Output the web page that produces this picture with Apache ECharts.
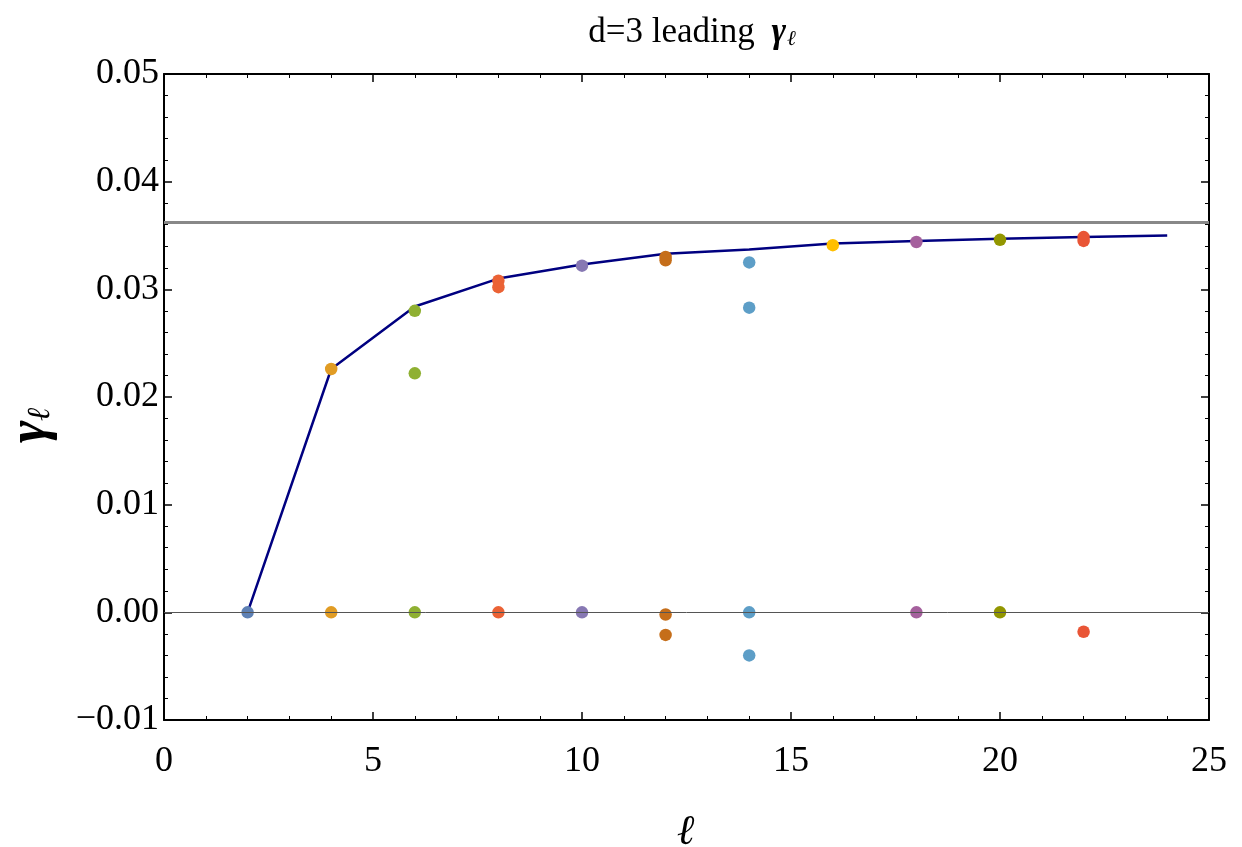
<!DOCTYPE html>
<html><head><meta charset="utf-8">
<script src="https://cdn.jsdelivr.net/npm/echarts@6/dist/echarts.min.js"></script>
<style>html,body{margin:0;padding:0;background:#fff}#c{width:1242px;height:847px}</style>
</head><body><div id="c"></div>
<script>
// Leading-trajectory curve
const lineL = [2, 4, 6, 8, 10, 12, 14, 16, 18, 20, 22, 24];
const lineGamma = [0, 0.0226, 0.0284, 0.0310, 0.0323, 0.0333, 0.0337, 0.03425, 0.0345, 0.0347, 0.03485, 0.0350];
const asymptote = 0.0362;
// Scatter points, grouped by ell
const dotL = [2, 4, 6, 8, 10, 12, 14, 16, 18, 20, 22];
const dotGamma = [
  [0],
  [0.0226, 0],
  [0.0280, 0.0222, 0],
  [0.0308, 0.0302, 0],
  [0.0322, 0],
  [0.0330, 0.0327, -0.0002, -0.0021],
  [0.0325, 0.0283, 0, -0.0040],
  [0.0341],
  [0.0344, 0],
  [0.0346, 0],
  [0.03485, 0.0345, -0.0018]
];
const dotColors = ['#5E81B5','#E19C24','#8FB032','#EB6235','#8778B3','#C56E1A','#5D9EC7','#FFBF00','#A5609D','#929600','#E95536'];
const xTicks = [0, 5, 10, 15, 20, 25];

const serif = '"Liberation Serif","DejaVu Serif",serif';
const chart = echarts.init(document.getElementById('c'), null, {renderer: 'canvas'});

const frameAxis = (extra) => Object.assign({
  type: 'value',
  axisLine: {show: true, onZero: false, lineStyle: {color: '#000', width: 2}},
  axisTick: {show: true, inside: true, length: 8, lineStyle: {color: '#000', width: 1.5}},
  minorTick: {show: true, splitNumber: 5, length: 4, lineStyle: {color: '#000', width: 1}},
  splitLine: {show: false},
  minorSplitLine: {show: false}
}, extra);

const series = [{
  type: 'line',
  data: lineL.map((l, i) => [l, lineGamma[i]]),
  showSymbol: false,
  symbol: 'none',
  lineStyle: {color: '#000080', width: 2.5},
  z: 2,
  markLine: {
    silent: true, symbol: 'none', label: {show: false}, precision: 6,
    data: [
      {yAxis: asymptote, lineStyle: {color: '#888888', width: 3, type: 'solid'}},
      {yAxis: 0, lineStyle: {color: '#555555', width: 1, type: 'solid'}}
    ]
  }
}];
dotL.forEach((l, i) => {
  series.push({
    type: 'scatter',
    data: dotGamma[i].map(g => [l, g]),
    symbol: 'circle',
    symbolSize: 12.5,
    itemStyle: {color: dotColors[i], opacity: 1},
    z: 3
  });
});

chart.setOption({
  animation: false,
  backgroundColor: '#fff',
  title: {
    text: '{a|d=3 leading }{g|γ}{s|ℓ}',
    left: 687, top: 10, textAlign: 'center',
    textStyle: {
      fontWeight: 'normal',
      rich: {
        a: {fontFamily: serif, fontSize: 35, fontWeight: 'normal', color: '#000'},
        g: {fontFamily: serif, fontSize: 35, fontStyle: 'italic', fontWeight: 'bold', color: '#000', padding: [0, 0, 0, 8]},
        s: {fontFamily: serif, fontSize: 21, fontStyle: 'italic', fontWeight: 'normal', color: '#000', padding: [14, 0, 0, 1]}
      }
    }
  },
  grid: {left: 164, right: 33, top: 74, bottom: 127, containLabel: false, outerBoundsMode: 'none'},
  xAxis: [
    frameAxis({
      min: 0, max: 25, interval: 5, position: 'bottom',
      axisLabel: {show: true, margin: 24, fontFamily: serif, fontSize: 36, color: '#000',
        customValues: xTicks},
      name: '{l|ℓ}', nameLocation: 'middle', nameGap: 92,
      nameTextStyle: {rich: {l: {fontFamily: serif, fontSize: 42, fontStyle: 'italic', fontWeight: 'bold', color: '#000'}}}
    }),
    frameAxis({min: 0, max: 25, interval: 5, position: 'top', axisLabel: {show: false}})
  ],
  yAxis: [
    frameAxis({
      min: -0.01, max: 0.05, interval: 0.01, position: 'left',
      axisLabel: {show: true, margin: 5, fontFamily: serif, fontSize: 36, color: '#000',
        formatter: v => v.toFixed(2).replace('-', '−')},
      name: '{g|γ}{s|ℓ}', nameLocation: 'middle', nameGap: 106, nameRotate: 90,
      nameTextStyle: {
        padding: [0, 56, 0, 0],
        rich: {
          g: {fontFamily: serif, fontSize: 54, fontStyle: 'italic', fontWeight: 'bold', color: '#000'},
          s: {fontFamily: serif, fontSize: 32, fontStyle: 'italic', fontWeight: 'bold', color: '#000', padding: [20, 0, 0, 0]}
        }
      }
    }),
    frameAxis({min: -0.01, max: 0.05, interval: 0.01, position: 'right', axisLabel: {show: false}})
  ],
  series: series
});
</script></body></html>
